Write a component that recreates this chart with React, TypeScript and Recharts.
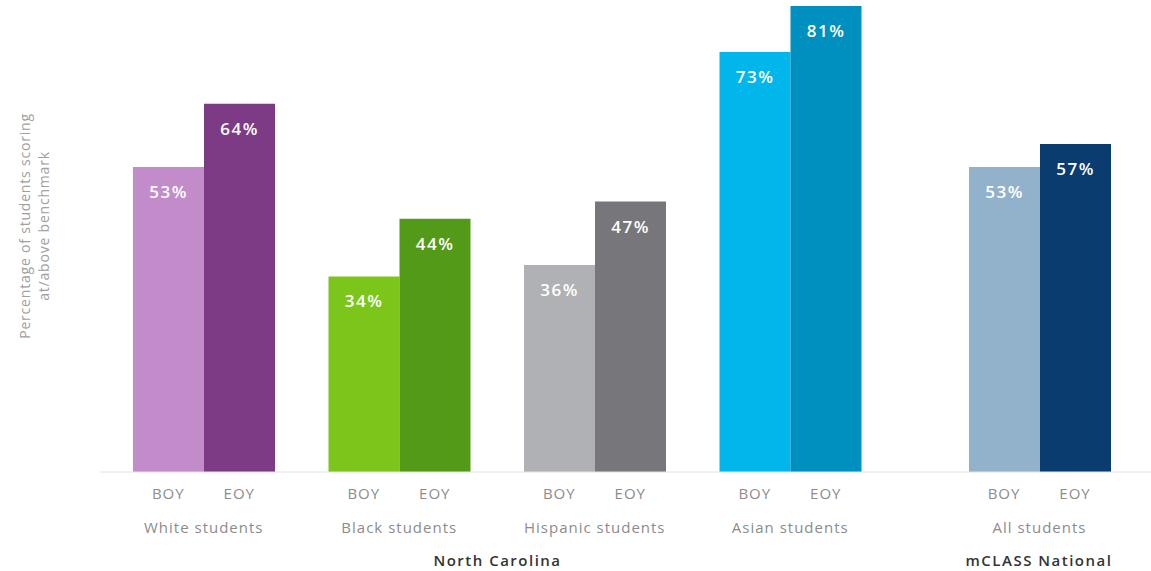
import React from 'react';
import { BarChart, Bar, XAxis, YAxis, Cell, LabelList, Label } from 'recharts';

const ncGroups = ['White students', 'Black students', 'Hispanic students', 'Asian students'];
const ncBoy = [53, 34, 36, 73];
const ncEoy = [64, 44, 47, 81];

const natGroups = ['All students'];
const natBoy = [53];
const natEoy = [57];

const periods = ['BOY', 'EOY'];
const ncTitle = 'North Carolina';
const natTitle = 'mCLASS National';
const yTitle = ['Percentage of students scoring', 'at/above benchmark'];

const boyColors = ['#c28ccb', '#7cc61c', '#b0b1b4', '#00b6ea'];
const eoyColors = ['#7d3a85', '#539a18', '#77777b', '#0090c0'];
const natBoyColors = ['#92b2cb'];
const natEoyColors = ['#0a3c70'];

const ncData = ncGroups.map((group, i) => ({ group, boy: ncBoy[i], eoy: ncEoy[i] }));
const natData = natGroups.map((group, i) => ({ group, boy: natBoy[i], eoy: natEoy[i] }));

const FONT = '"Open Sans", "DejaVu Sans", sans-serif';
const pct = (v: any) => `${v}%`;

function GroupTick({ x, y, payload }: any) {
  return (
    <g fontFamily={FONT} fill="#8c8c8c" fontSize={15} letterSpacing={1}>
      <text x={x - 35.5} y={y + 25} textAnchor="middle">{periods[0]}</text>
      <text x={x + 35.5} y={y + 25} textAnchor="middle">{periods[1]}</text>
      <text x={x} y={y + 59} textAnchor="middle">{payload.value}</text>
    </g>
  );
}

function YTitle() {
  const cy = 226;
  return (
    <g fontFamily={FONT} fontSize={14} fill="#a0a0a0" textAnchor="middle" letterSpacing={0.8}>
      <text x={30} y={cy} transform={`rotate(-90, 30, ${cy})`}>{yTitle[0]}</text>
      <text x={49} y={cy} transform={`rotate(-90, 49, ${cy})`}>{yTitle[1]}</text>
    </g>
  );
}

const labelStyle = { fill: '#ffffff', fontSize: 17, fontWeight: 600, fontFamily: FONT, letterSpacing: 1.5 };
const titleStyle = { fill: '#333333', fontSize: 15, fontWeight: 600, fontFamily: FONT, letterSpacing: 1.5 };

export default function App() {
  return (
    <div style={{ position: 'absolute', left: 0, top: 0, width: 1151, height: 571, background: '#fff', overflow: 'hidden' }}>
      <div style={{ position: 'absolute', left: 0, top: 0 }}>
        <BarChart width={915} height={571} data={ncData} margin={{ top: 6, right: 0, bottom: 0, left: 0 }}
          barSize={71} barGap={0}>
          <XAxis dataKey="group" height={99} padding={{ left: 6, right: 27 }} tickLine={false} tickSize={0}
            axisLine={{ stroke: '#e2e2e2' }} interval={0} tick={<GroupTick />}>
            <Label value={ncTitle} position="insideBottom" offset={5} dx={-10} style={titleStyle} />
          </XAxis>
          <YAxis width={100} domain={[0, 81]} tick={false} tickLine={false} axisLine={false}
            label={<YTitle />} />
          <Bar dataKey="boy" isAnimationActive={false}>
            {ncData.map((d, i) => <Cell key={d.group} fill={boyColors[i]} />)}
            <LabelList dataKey="boy" position="insideTop" offset={19} formatter={pct} style={labelStyle} />
          </Bar>
          <Bar dataKey="eoy" isAnimationActive={false}>
            {ncData.map((d, i) => <Cell key={d.group} fill={eoyColors[i]} />)}
            <LabelList dataKey="eoy" position="insideTop" offset={19} formatter={pct} style={labelStyle} />
          </Bar>
        </BarChart>
      </div>
      <div style={{ position: 'absolute', left: 915, top: 0 }}>
        <BarChart width={236} height={571} data={natData} margin={{ top: 6, right: 0, bottom: 0, left: 0 }}
          barSize={71} barGap={0}>
          <XAxis dataKey="group" height={99} padding={{ left: 27, right: 14 }} tickLine={false} tickSize={0}
            axisLine={{ stroke: '#e2e2e2' }} interval={0} tick={<GroupTick />}>
            <Label value={natTitle} position="insideBottom" offset={5} dx={6} style={titleStyle} />
          </XAxis>
          <YAxis hide domain={[0, 81]} />
          <Bar dataKey="boy" isAnimationActive={false}>
            {natData.map((d, i) => <Cell key={d.group} fill={natBoyColors[i]} />)}
            <LabelList dataKey="boy" position="insideTop" offset={19} formatter={pct} style={labelStyle} />
          </Bar>
          <Bar dataKey="eoy" isAnimationActive={false}>
            {natData.map((d, i) => <Cell key={d.group} fill={natEoyColors[i]} />)}
            <LabelList dataKey="eoy" position="insideTop" offset={19} formatter={pct} style={labelStyle} />
          </Bar>
        </BarChart>
      </div>
    </div>
  );
}
